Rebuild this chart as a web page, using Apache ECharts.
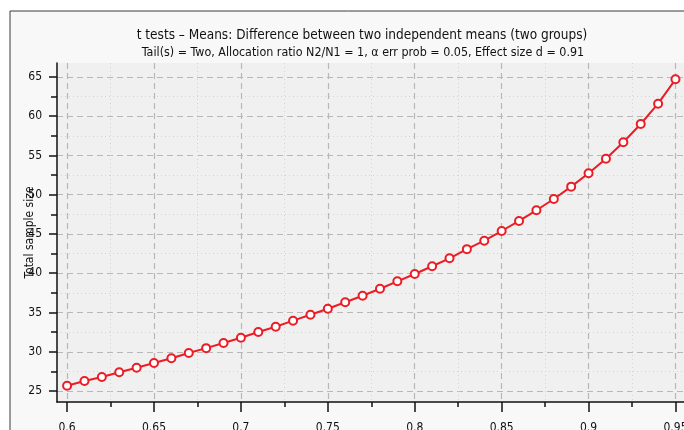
<!DOCTYPE html>
<html>
<head>
<meta charset="utf-8">
<script src="https://cdn.jsdelivr.net/npm/echarts@6/dist/echarts.min.js"></script>
<style>
  html, body { margin: 0; padding: 0; background: #fff; }
  #main { width: 684px; height: 430px; }
</style>
</head>
<body>
<div id="main"></div>
<script>
// power (1 - beta err prob) on the x axis
var powerValues = [0.60, 0.61, 0.62, 0.63, 0.64, 0.65, 0.66, 0.67, 0.68, 0.69,
                   0.70, 0.71, 0.72, 0.73, 0.74, 0.75, 0.76, 0.77, 0.78, 0.79,
                   0.80, 0.81, 0.82, 0.83, 0.84, 0.85, 0.86, 0.87, 0.88, 0.89,
                   0.90, 0.91, 0.92, 0.93, 0.94, 0.95];
// total sample size
var totalSampleSize = [25.68, 26.27, 26.78, 27.38, 27.97, 28.57, 29.17, 29.84, 30.46, 31.11,
                       31.79, 32.52, 33.19, 33.96, 34.72, 35.48, 36.30, 37.14, 38.03, 38.97,
                       39.90, 40.89, 41.90, 43.07, 44.15, 45.38, 46.66, 48.02, 49.46, 51.03,
                       52.73, 54.59, 56.68, 59.01, 61.60, 64.70];

// tick labels
var xTicks = [0.6, 0.65, 0.7, 0.75, 0.8, 0.85, 0.9, 0.95];
var yTicks = [25, 30, 35, 40, 45, 50, 55, 60, 65];

var titleText = 't tests \u2013 Means: Difference between two independent means (two groups)';
var subtitleText = 'Tail(s) = Two, Allocation ratio N2/N1 = 1, \u03b1 err prob = 0.05, Effect size d = 0.91';
var yName = 'Total sample size';

var FONT = '"DejaVu Sans Condensed", "DejaVu Sans", sans-serif';

var seriesData = [];
for (var i = 0; i < powerValues.length; i++) {
  seriesData.push([powerValues[i], totalSampleSize[i]]);
}

var myChart = echarts.init(document.getElementById('main'));

var option = {
  backgroundColor: '#ffffff',
  animation: false,
  textStyle: { fontFamily: FONT },
  graphic: [
    {
      // outer frame
      type: 'rect',
      z: -100,
      silent: true,
      shape: { x: 10, y: 11, width: 720, height: 460 },
      style: { fill: '#f8f8f8', stroke: '#3a3a3a', lineWidth: 1 }
    },
    {
      type: 'text',
      x: 362, y: 35,
      style: {
        text: titleText, fill: '#111', font: '13.5px ' + FONT,
        textAlign: 'center', textVerticalAlign: 'middle'
      }
    },
    {
      type: 'text',
      x: 363, y: 53,
      style: {
        text: subtitleText, fill: '#111', font: '12.4px ' + FONT,
        textAlign: 'center', textVerticalAlign: 'middle'
      }
    }
  ],
  grid: {
    left: 57, right: 0, top: 63, bottom: 28,
    outerBoundsMode: 'none',
    containLabel: false,
    show: true, backgroundColor: '#f0f0f0', borderWidth: 0
  },
  xAxis: {
    type: 'value',
    min: 0.5942, max: 0.9549,
    splitNumber: 7,
    axisLine: { show: true, onZero: false, lineStyle: { color: '#111', width: 1.5 } },
    axisTick: { show: true, inside: false, length: 10, customValues: xTicks,
                lineStyle: { color: '#111', width: 1.5 } },
    minorTick: { show: true, splitNumber: 2, length: 5, lineStyle: { color: '#111', width: 1.5 } },
    axisLabel: {
      customValues: xTicks,
      margin: 20, color: '#111', fontSize: 12, fontFamily: FONT,
      formatter: function (v) { return String(+(+v).toFixed(2)); }
    },
    splitLine: { show: true, lineStyle: { color: '#b8b8b8', width: 1.2, type: [6, 4] } },
    minorSplitLine: { show: true, lineStyle: { color: '#d4d4d4', width: 1, type: [1, 3] } }
  },
  yAxis: {
    type: 'value',
    min: 23.6, max: 66.78,
    splitNumber: 8,
    name: yName,
    nameLocation: 'middle',
    nameGap: 21,
    nameMoveOverlap: false,
    nameTextStyle: { color: '#111', fontSize: 12, fontFamily: FONT },
    axisLine: { show: true, onZero: false, lineStyle: { color: '#111', width: 1.5 } },
    axisTick: { show: true, inside: false, length: 8, customValues: yTicks,
                lineStyle: { color: '#111', width: 1.5 } },
    minorTick: { show: true, splitNumber: 2, length: 6, lineStyle: { color: '#111', width: 1.5 } },
    axisLabel: {
      customValues: yTicks,
      margin: 15, color: '#111', fontSize: 12, fontFamily: FONT
    },
    splitLine: { show: true, lineStyle: { color: '#b8b8b8', width: 1.2, type: [6, 4] } },
    minorSplitLine: { show: true, lineStyle: { color: '#d4d4d4', width: 1, type: [1, 3] } }
  },
  series: [
    {
      type: 'line',
      data: seriesData,
      symbol: 'circle',
      symbolSize: 8,
      showAllSymbol: true,
      lineStyle: { color: '#ec1c24', width: 2 },
      itemStyle: { color: '#ffffff', borderColor: '#ec1c24', borderWidth: 2 },
      z: 5
    }
  ]
};

myChart.setOption(option);
</script>
</body>
</html>
